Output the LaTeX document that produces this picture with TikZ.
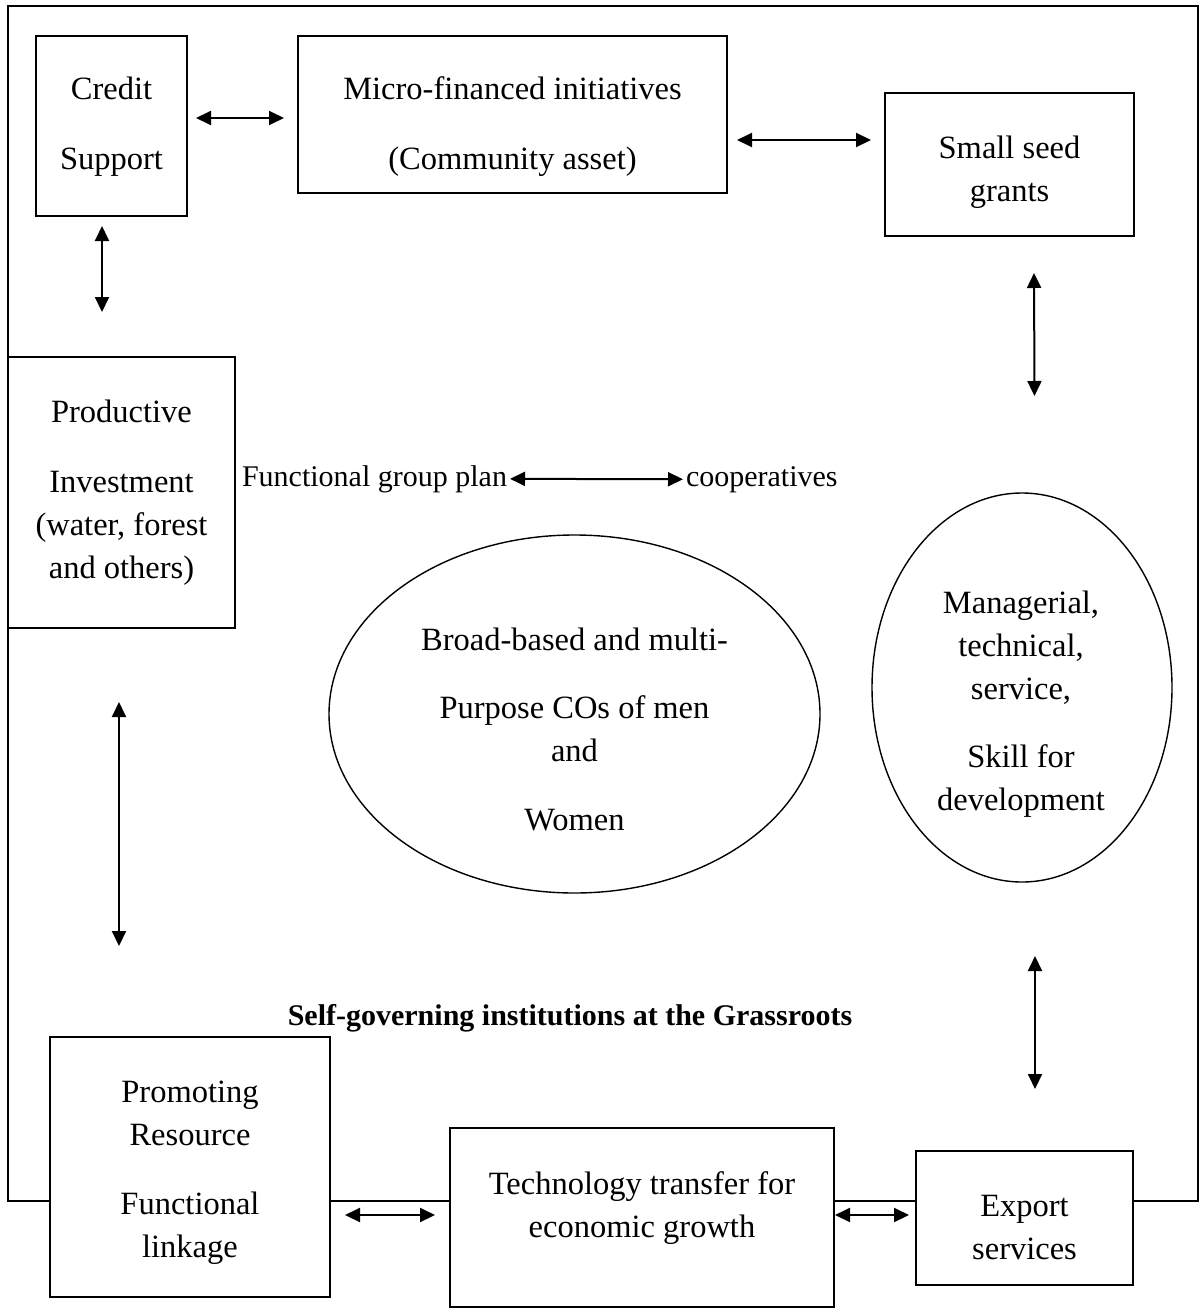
\documentclass[tikz,border=0pt]{standalone}
\usepackage{fontspec}
\setmainfont{Liberation Serif}
\usetikzlibrary{arrows.meta,shapes.geometric}
\begin{document}
\begin{tikzpicture}[x=1pt,y=-1pt,
  box/.style={draw, line width=1.4pt, fill=white, inner sep=0pt, outer sep=0pt},
  oval/.style={draw, ellipse, line width=1.4pt, inner sep=0pt, outer sep=0pt},
  txt/.style={align=center, inner sep=0pt, anchor=base, font=\fontsize{32.5}{43}\selectfont},
  smalltxt/.style={inner sep=0pt, outer sep=3pt, font=\fontsize{30}{36}\selectfont},
  dbl/.style={{Triangle[length=15pt,width=14pt]}-{Triangle[length=15pt,width=14pt]}, line width=2pt},
]
\useasboundingbox (0,0) rectangle (1200,1308);

% surrounding frame
\draw[line width=1.4pt] (8,6) rectangle (1198,1201);

% boxes
\node[box, minimum width=151pt, minimum height=180pt] (credit) at (111.5,126) {};
\node[box, minimum width=429pt, minimum height=157pt] (micro) at (512.5,114.5) {};
\node[box, minimum width=249pt, minimum height=143pt] (seed) at (1009.5,164.5) {};
\node[box, minimum width=227pt, minimum height=271pt] (invest) at (121.5,492.5) {};
\node[box, minimum width=280pt, minimum height=260pt] (promo) at (190,1167) {};
\node[box, minimum width=384pt, minimum height=179pt] (tech) at (642,1217.5) {};
\node[box, minimum width=217pt, minimum height=134pt] (export) at (1024.5,1218) {};

% ovals
\node[oval, minimum width=491pt, minimum height=358pt] (cos) at (574.5,714) {};
\node[oval, minimum width=300pt, minimum height=389pt] (skill) at (1022,687.5) {};

% texts (anchored at the baseline of their last line)
\node[txt] (creditT) at (111.5,170) {Credit\\[27pt]Support};
\node[txt] (microT) at (512.5,170) {Micro-financed initiatives\\[27pt](Community asset)};
\node[txt] (seedT) at (1009.5,201) {Small seed\\grants};
\node[txt] (investT) at (121.5,578) {Productive\\[27pt]Investment\\(water, forest\\and others)};
\node[txt] (cosT) at (574.5,830) {Broad-based and multi-\\[25pt]Purpose COs of men\\and\\[26pt]Women};
\node[txt] (skillT) at (1021,810) {Managerial,\\technical,\\service,\\[25pt]Skill for\\development};
\node[txt] (promoT) at (190,1257) {Promoting\\Resource\\[26pt]Functional\\linkage};
\node[txt] (techT) at (642,1237) {Technology transfer for\\economic growth};
\node[txt] (exportT) at (1024.5,1259) {Export\\services};

\node[smalltxt, anchor=base east] (plan) at (510,486) {Functional group plan};
\node[smalltxt, anchor=base west] (coop) at (683,486) {cooperatives};
\node[inner sep=0pt, anchor=base, font=\fontsize{30}{36}\selectfont\bfseries] (title) at (570,1025)
  {Self-governing institutions at the Grassroots};

% two-way links
\draw[dbl] ([shift={(9,-8)}]credit.east) -- ([shift={(-14,3.5)}]micro.west);
\draw[dbl] ([shift={(10,25.5)}]micro.east) -- ([shift={(-14,-24.5)}]seed.west);
\draw[dbl] ([shift={(-9.5,10)}]credit.south) -- ([shift={(-19.5,-45)}]invest.north);
\draw[dbl] ([shift={(24.5,37)}]seed.south) -- ([shift={(12.5,-97)}]skill.north);
\draw[dbl] ([shift={(-2.5,74)}]invest.south) -- ([shift={(-71,-91)}]promo.north);
\draw[dbl] ([shift={(13,74)}]skill.south) -- ([shift={(10.5,-62)}]export.north);
\draw[dbl] ([shift={(15,48)}]promo.east) -- ([shift={(-15,-2.5)}]tech.west);
\draw[dbl] ([shift={(1,-2.5)}]tech.east) -- ([shift={(-7,-3)}]export.west);
\draw[dbl] (plan.east) -- (coop.west);
\end{tikzpicture}
\end{document}
